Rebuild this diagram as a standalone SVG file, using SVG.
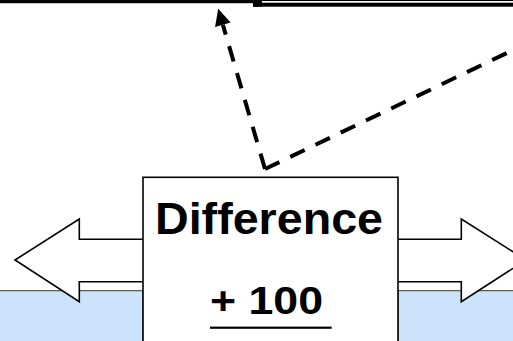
<svg xmlns="http://www.w3.org/2000/svg" width="513" height="341" viewBox="0 0 513 341">
  <style>
    .blue { fill: #cce4fb; stroke: #333333; stroke-width: 1; }
    .outline { fill: #ffffff; stroke: #000000; stroke-width: 1.6; }
    .dash { fill: none; stroke: #000000; stroke-width: 4; stroke-dasharray: 16 12; }
    .lbl { font-family: "Liberation Sans", Arial, sans-serif; font-weight: bold; fill: #000000; }
  </style>
  <defs>
    <marker id="head" markerUnits="userSpaceOnUse" markerWidth="17" markerHeight="17" refX="0" refY="8.1" orient="auto" overflow="visible">
      <path d="M0,0 L16.6,8.1 L0,16.2 Z" fill="#000000"/>
    </marker>
  </defs>

  <g id="top-boxes">
    <rect x="0" y="0" width="262" height="3.2" fill="#000000"/>
    <rect x="253" y="2.7" width="260" height="4" fill="#000000"/>
    <rect x="253" y="0" width="9" height="6.7" fill="#000000"/>
    <rect x="262" y="0" width="251" height="1" fill="#000000"/>
  </g>

  <g id="left-bar">
    <rect class="blue" x="-2" y="290.7" width="145" height="60"/>
  </g>
  <g id="right-bar">
    <rect class="blue" x="398" y="290.7" width="120" height="60"/>
  </g>

  <g id="double-arrow">
    <polygon class="outline" points="15,260 79.3,219 79.3,239.3 461.3,239.3 461.3,219 526,260 461.3,301.7 461.3,281.7 79.3,281.7 79.3,301.7"/>
  </g>

  <g id="connectors">
    <path class="dash" d="M265,169 L222.85,24.7" marker-end="url(#head)"/>
    <path class="dash" d="M265,169 L530,41.9"/>
  </g>

  <g id="difference-box">
    <rect class="outline" x="143" y="177.3" width="255" height="180"/>
    <text class="lbl" x="155" y="234.3" font-size="45" textLength="228" lengthAdjust="spacingAndGlyphs">Difference</text>
    <text class="lbl" x="210" y="314.3" font-size="39" textLength="113" lengthAdjust="spacingAndGlyphs">+ 100</text>
    <rect x="210" y="326.6" width="121.7" height="2.2" fill="#000000"/>
  </g>
</svg>
